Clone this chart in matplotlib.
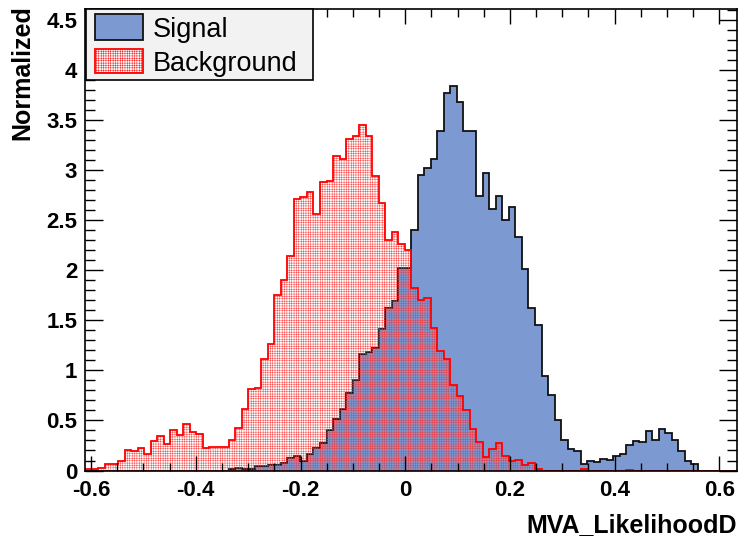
import numpy as np
import matplotlib
matplotlib.use("Agg")
import matplotlib.pyplot as plt
from matplotlib.patches import Rectangle
from matplotlib.ticker import MultipleLocator

# histogram range and binning (100 bins)
x_min, x_max = -0.6107, 0.6336
n_bins = 100

# normalized signal histogram, bin by bin
signal = [0.0] * 22 + [
    0.015, 0.03, 0.015, 0.02, 0.045, 0.05, 0.055, 0.06, 0.08, 0.125,
    0.15, 0.10, 0.17, 0.22, 0.27, 0.405, 0.515, 0.61, 0.77, 0.905,
    1.165, 1.18, 1.22, 1.41, 1.62, 1.69, 2.02, 2.02, 2.405, 2.95,
    3.02, 3.11, 3.395, 3.77, 3.845, 3.68, 3.39, 3.39, 2.74, 2.97,
    2.615, 2.74, 2.505, 2.63, 2.33, 2.015, 1.62, 1.45, 0.94, 0.75,
    0.505, 0.305, 0.21, 0.195, 0.065, 0.10, 0.09, 0.12, 0.11, 0.15,
    0.165, 0.25, 0.29, 0.28, 0.39, 0.30, 0.41, 0.37, 0.305, 0.195,
    0.10, 0.07,
] + [0.0] * 6

# normalized background histogram
background = [
    0.015, 0.02, 0.03, 0.065, 0.065, 0.095, 0.205, 0.19, 0.22, 0.17,
    0.29, 0.34, 0.265, 0.40, 0.35, 0.465, 0.38, 0.365, 0.22, 0.23,
    0.23, 0.23, 0.305, 0.425, 0.615, 0.81, 0.825, 1.115, 1.265, 1.75,
    1.905, 2.145, 2.715, 2.73, 2.78, 2.565, 2.885, 2.895, 3.14, 3.11,
    3.31, 3.34, 3.455, 3.34, 2.94, 2.67, 2.305, 2.38, 2.265, 2.205,
    1.82, 1.705, 1.72, 1.42, 1.19, 1.11, 0.855, 0.74, 0.605, 0.41,
    0.28, 0.14, 0.21, 0.27, 0.145, 0.10, 0.11, 0.055, 0.08, 0.02,
] + [0.0] * 6 + [0.02] + [0.0] * 6 + [0.01] + [0.0] * 16

labels = ["Signal", "Background"]

edges = np.linspace(x_min, x_max, n_bins + 1)

plt.rcParams["font.family"] = ["Liberation Sans", "DejaVu Sans"]
plt.rcParams["hatch.linewidth"] = 0.3

W, H = 740, 537
fig = plt.figure(figsize=(W / 100, H / 100), dpi=100)
ax = fig.add_axes([0.1155, 0.1238, 0.8804, 0.8594])

sig_fill = "#7d99d1"
hatch_col = "#ff3030"
bkg_hatch = "+++++++"
ax.stairs(signal, edges, fill=True, facecolor=sig_fill, edgecolor="none", linewidth=0)
ax.stairs(signal, edges, color="#111111", linewidth=1.3)
ax.stairs(background, edges, fill=True, facecolor="none", edgecolor=hatch_col,
          hatch=bkg_hatch, linewidth=0)
ax.stairs(background, edges, color="#ff0000", linewidth=1.3)

ax.set_xlim(x_min, x_max)
ax.set_ylim(0, 4.61)

ax.xaxis.set_major_locator(MultipleLocator(0.2))
ax.xaxis.set_minor_locator(MultipleLocator(0.05))
ax.yaxis.set_major_locator(MultipleLocator(0.5))
ax.yaxis.set_minor_locator(MultipleLocator(0.1))
ax.xaxis.set_major_formatter(plt.FuncFormatter(lambda v, p: f"{v:g}" if abs(v) > 1e-9 else "0"))
ax.yaxis.set_major_formatter(plt.FuncFormatter(lambda v, p: f"{v:g}"))

ax.tick_params(axis="both", which="both", direction="in", top=True, right=True,
               width=1.0, color="black")
ax.tick_params(axis="x", which="major", length=11, pad=7)
ax.tick_params(axis="x", which="minor", length=5.5)
ax.tick_params(axis="y", which="major", length=13, pad=6)
ax.tick_params(axis="y", which="minor", length=7)
for lab in ax.get_xticklabels() + ax.get_yticklabels():
    lab.set_fontsize(16)
    lab.set_fontweight("bold")
for sp in ax.spines.values():
    sp.set_linewidth(1.2)


# legend box drawn by hand (ROOT TLegend look), positions in pixels from top-left
def px_rect(x0, y0, x1, y1, **kw):
    r = Rectangle((x0 / W, 1 - y1 / H), (x1 - x0) / W, (y1 - y0) / H,
                  transform=fig.transFigure, **kw)
    fig.add_artist(r)
    return r


px_rect(85.5, 9, 313, 80, facecolor="#f2f2f2", edgecolor="black", linewidth=1.2, zorder=5)
px_rect(95, 14, 143, 40, facecolor=sig_fill, edgecolor="#111111", linewidth=1.3, zorder=6)
px_rect(95, 49, 143, 73, facecolor="white", edgecolor="#ff0000", hatch=bkg_hatch,
        linewidth=1.3, zorder=6)
for lab, yc in zip(labels, [27, 61]):
    fig.text(153 / W, 1 - yc / H, lab, ha="left", va="center_baseline",
             fontsize=19.5, zorder=7)

fig.text(10 / W, 1 - 5 / H, "Normalized", rotation=90, ha="left", va="top",
         fontsize=18, fontweight="bold")
fig.text(737 / W, 5 / H, "MVA_LikelihoodD", ha="right", va="baseline",
         fontsize=18, fontweight="bold")

fig.savefig("out.png", dpi=100)
